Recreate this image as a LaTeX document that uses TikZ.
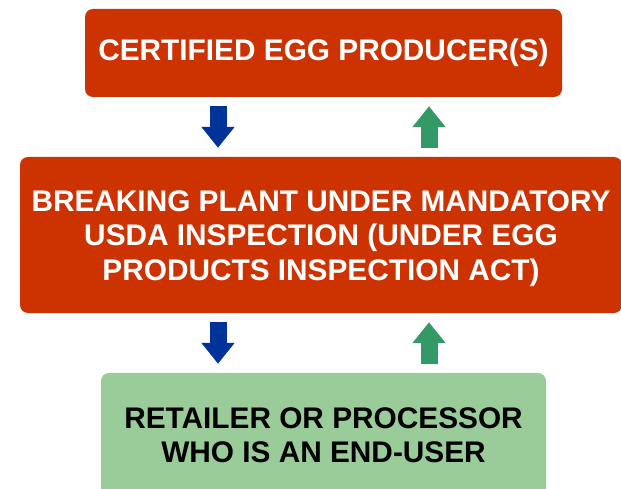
\documentclass[tikz,border=0pt]{standalone}
\usepackage{fontspec}
\setmainfont{Liberation Sans}
\usetikzlibrary{arrows.meta}
\definecolor{boxred}{HTML}{CC3300}
\definecolor{boxgreen}{HTML}{99CC99}
\definecolor{arrblue}{HTML}{003399}
\definecolor{arrgreen}{HTML}{339966}
\begin{document}
\begin{tikzpicture}[x=1pt,y=-1pt,
  stage/.style={rounded corners=8pt, inner sep=0pt, align=center, font=\fontsize{29.8}{34.5}\selectfont\bfseries},
  downarr/.style={draw=arrblue, line width=17pt, -{Triangle[width=32pt,length=21pt]}, arrblue, shorten <=9pt, shorten >=9pt},
  uparr/.style={draw=arrgreen, line width=17pt, -{Triangle[width=32pt,length=21pt]}, arrgreen, shorten <=9pt, shorten >=9pt}]
\useasboundingbox (0,0) rectangle (621,489);

\node[stage, fill=boxred, text=white, minimum width=477pt, minimum height=88pt] (producer) at (323.5,53) {CERTIFIED EGG PRODUCER(S)};
\node[stage, fill=boxred, text=white, minimum width=602pt, minimum height=156pt, text height=97pt] (plant) at (321,235) {BREAKING PLANT UNDER MANDATORY\\USDA INSPECTION (UNDER EGG\\PRODUCTS INSPECTION ACT)};
\node[stage, fill=boxgreen, text=black, minimum width=445pt, minimum height=124pt] (user) at (323.5,435) {RETAILER OR PROCESSOR\\WHO IS AN END-USER};

\coordinate (left) at (218,0);
\coordinate (right) at (429,0);

\path[downarr] (producer.south -| left) -- (plant.north -| left);
\path[uparr] (plant.north -| right) -- (producer.south -| right);
\path[downarr] (plant.south -| left) -- (user.north -| left);
\path[uparr] (user.north -| right) -- (plant.south -| right);
\end{tikzpicture}
\end{document}
